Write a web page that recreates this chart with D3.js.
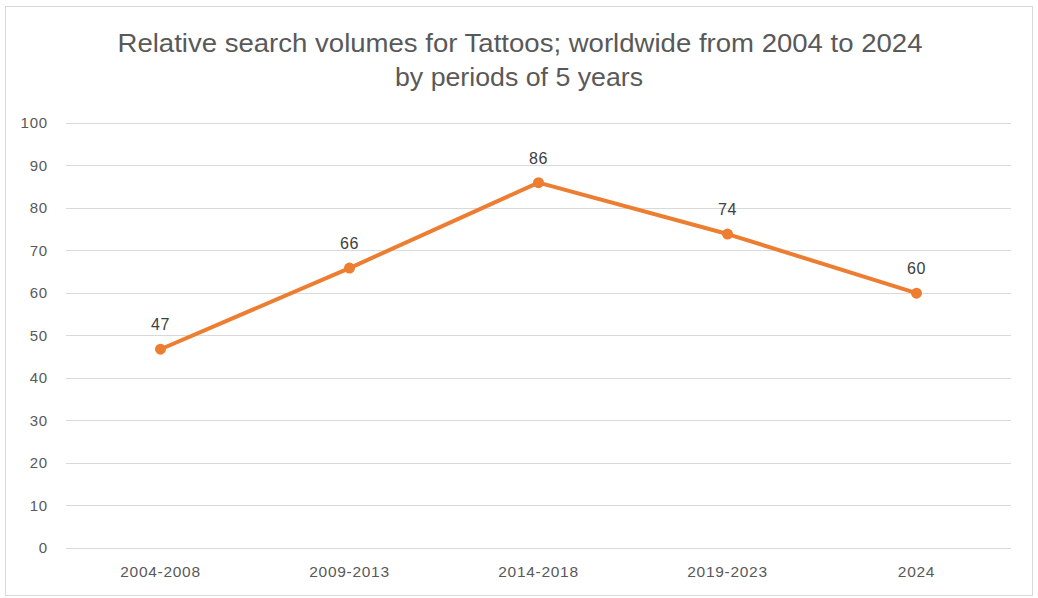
<!DOCTYPE html>
<html>
<head>
<meta charset="utf-8">
<script src="https://cdn.jsdelivr.net/npm/d3@7"></script>
<style>
  html, body { margin: 0; padding: 0; background: #fff; }
  svg { display: block; font-family: "Liberation Sans", Arial, sans-serif; }
</style>
</head>
<body>
<svg id="chart" width="1038" height="598"></svg>
<script>
const categories = ["2004-2008", "2009-2013", "2014-2018", "2019-2023", "2024"];
const values = [46.7, 65.8, 85.9, 73.8, 59.9];
const yTicks = [0, 10, 20, 30, 40, 50, 60, 70, 80, 90, 100];
const titleLines = ["Relative search volumes for Tattoos; worldwide from 2004 to 2024", "by periods of 5 years"];

const svg = d3.select("#chart");
const W = 1038, H = 598;
const margin = { left: 66, right: 27, top: 122.7, bottom: 50 };
const plotW = W - margin.left - margin.right;

// outer frame
svg.append("rect")
  .attr("x", 5.5).attr("y", 6.5).attr("width", 1027).attr("height", 589)
  .attr("fill", "#fff").attr("stroke", "#d9d9d9").attr("stroke-width", 1);

const x = d3.scaleBand().domain(categories).range([margin.left, margin.left + plotW]);
const y = d3.scaleLinear().domain([0, 100]).range([547.7, 122.7]);

// gridlines
svg.append("g")
  .selectAll("line").data(yTicks).join("line")
  .attr("x1", margin.left).attr("x2", margin.left + plotW)
  .attr("y1", d => Math.round(y(d)) + 0.5).attr("y2", d => Math.round(y(d)) + 0.5)
  .attr("stroke", "#d9d9d9").attr("stroke-width", 1);

// y axis labels
const yAxis = d3.axisLeft(y).tickValues(yTicks).tickSize(0).tickPadding(0);
const gy = svg.append("g").attr("transform", "translate(48,0)").call(yAxis);
gy.select(".domain").remove();
gy.selectAll("text").attr("fill", "#595959").attr("font-size", 15)
  .attr("letter-spacing", "0.8px")
  .attr("font-family", "Liberation Sans, Arial, sans-serif");

// x axis labels
const xAxis = d3.axisBottom(x).tickSize(0).tickPadding(0);
const gx = svg.append("g").attr("transform", "translate(0,566)").call(xAxis);
gx.select(".domain").remove();
gx.selectAll("text").attr("fill", "#595959").attr("font-size", 15.5)
  .attr("letter-spacing", "0.7px")
  .attr("font-family", "Liberation Sans, Arial, sans-serif");

// line
const pts = categories.map((c, i) => ({ c, v: values[i] }));
const line = d3.line().x(d => x(d.c) + x.bandwidth() / 2).y(d => y(d.v));
svg.append("path").datum(pts)
  .attr("d", line).attr("fill", "none")
  .attr("stroke", "#ed7d31").attr("stroke-width", 4)
  .attr("stroke-linejoin", "round").attr("stroke-linecap", "round");

svg.append("g").selectAll("circle").data(pts).join("circle")
  .attr("cx", d => x(d.c) + x.bandwidth() / 2)
  .attr("cy", d => y(d.v))
  .attr("r", 5.5).attr("fill", "#ed7d31");

// data labels
svg.append("g").selectAll("text").data(pts).join("text")
  .attr("x", d => x(d.c) + x.bandwidth() / 2)
  .attr("y", d => y(d.v) - 24.5)
  .attr("dy", "0.35em")
  .attr("text-anchor", "middle")
  .attr("font-size", 16)
  .attr("letter-spacing", "0.5px")
  .attr("fill", "#404040")
  .text(d => d3.format(".0f")(d.v));

// title
svg.append("text")
  .attr("x", 520).attr("y", 52).attr("text-anchor", "middle")
  .attr("font-size", 26).attr("fill", "#595959")
  .attr("textLength", 805).attr("lengthAdjust", "spacingAndGlyphs")
  .text(titleLines[0]);
svg.append("text")
  .attr("x", 519).attr("y", 86).attr("text-anchor", "middle")
  .attr("font-size", 26).attr("fill", "#595959")
  .attr("textLength", 248).attr("lengthAdjust", "spacingAndGlyphs")
  .text(titleLines[1]);
</script>
</body>
</html>
